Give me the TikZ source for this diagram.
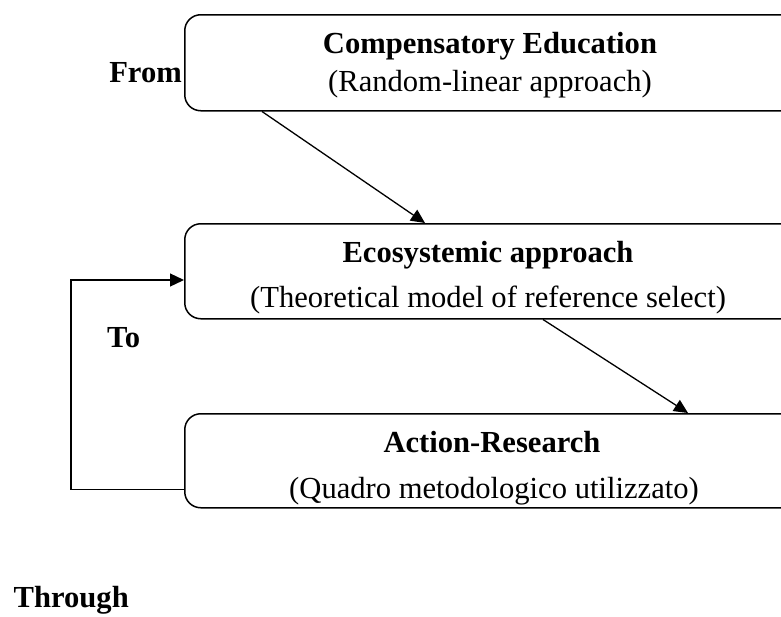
\documentclass[tikz,border=0pt]{standalone}
\usepackage{fontspec}
\setmainfont{Liberation Serif}
\usetikzlibrary{arrows.meta,calc}
\tikzset{
  boxnode/.style={draw=black, line width=1.5pt, rounded corners=16pt, inner sep=0pt,
    minimum width=612pt, anchor=north west},
  txt/.style={inner sep=0pt, anchor=base, font=\fontsize{30.6}{36}\selectfont},
  lbl/.style={inner sep=0pt, font=\fontsize{30.6}{36}\selectfont\bfseries},
  arr/.style={line width=1.3pt, -{Triangle[length=14pt,width=13pt]}}
}
\begin{document}
\begin{tikzpicture}[x=1pt,y=-1pt]
\useasboundingbox (0,0) rectangle (781,616);
\clip (0,0) rectangle (781,616);
% boxes
\node[boxnode, minimum height=96pt] (b1) at (184,14) {};
\node[boxnode, minimum height=95pt] (b2) at (184,223) {};
\node[boxnode, minimum height=94pt] (b3) at (184,413) {};
% box texts
\node[txt] (t1a) at (490,53) {\bfseries Compensatory Education};
\node[txt] (t1b) at (490,91) {(Random-linear approach)};
\node[txt] (t2a) at (488,262) {\bfseries Ecosystemic approach};
\node[txt] (t2b) at (488,307) {(Theoretical model of reference select)};
\node[txt] (t3a) at (492,452) {\bfseries Action-Research};
\node[txt] (t3b) at (494,498) {(Quadro metodologico utilizzato)};
% side labels
\node[lbl, anchor=base east] (from) at (182,82) {From};
\node[lbl, anchor=base west] (to) at (107,347) {To};
\node[lbl, anchor=base east] (through) at (129,607) {Through};
% connectors
\draw[arr] ($(b1.south west)+(78,0)$) -- ($(b2.north west)+(241,0)$);
\draw[arr] ($(b2.south west)+(359,0)$) -- ($(b3.north west)+(504,0)$);
\coordinate (lp) at (71,280);
\draw[arr] ($(b3.south west)+(0,-19)$) -| (lp) -- ($(b2.north west)+(0,57)$);
\end{tikzpicture}
\end{document}
